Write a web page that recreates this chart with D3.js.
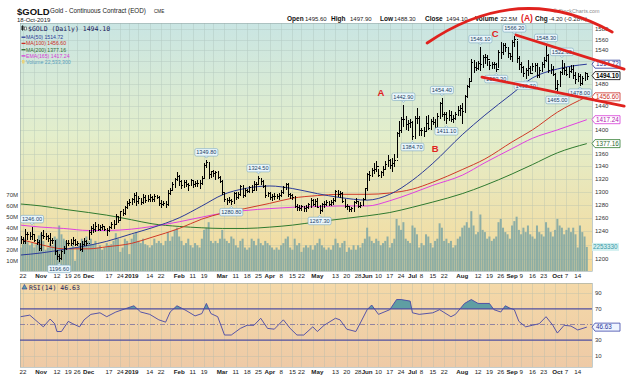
<!DOCTYPE html>
<html><head><meta charset="utf-8">
<script src="https://cdn.jsdelivr.net/npm/d3@7"></script>
<style>body{margin:0;background:#fff}svg{display:block;font-family:"Liberation Sans",Arial,sans-serif}</style>
</head><body><svg id="c" width="626" height="391"></svg>
<script>
// ---------------- DATA ----------------
const holidays = ["2018-11-22","2018-12-05","2018-12-25","2019-01-01","2019-01-21","2019-02-18","2019-04-19","2019-05-27","2019-07-04","2019-09-02"];
const closes = [
1228.5,1225.8,1236.4,1236.1,1233.2,1235.9,1227.5,1224.5,1215.0,
1235.0,1233.3,1232.9,1229.6,1226.9,1226.6,1210.6,1203.2,1201.4,1210.3,1215.1,1222.6,1223.2,1222.4,1227.6,1221.2,1222.6,1214.4,1220.6,1225.1,1222.2,
1238.4,1245.0,1243.0,1248.4,1243.8,1246.3,1247.1,1243.2,1241.4,1246.1,1250.3,1250.0,1262.2,1256.2,1269.8,1267.0,1276.9,1282.7,1284.7,
1288.1,1294.8,1285.8,1289.5,1283.7,1292.0,1287.3,1289.3,1291.3,1288.5,1294.0,1292.4,1282.0,1280.5,1283.0,1280.5,1298.5,1303.4,1312.1,1319.8,1325.2,
1317.5,1310.4,1315.5,1311.8,1310.3,1318.5,1311.9,1314.4,1312.9,1314.2,1322.1,1342.7,1347.0,1327.2,1332.4,1329.0,1331.3,1323.5,1316.1,
1299.2,1289.4,1287.4,1287.7,1285.0,1298.6,1292.3,1296.8,1309.2,1295.3,1302.9,1301.8,1306.7,1303.3,1312.3,1312.3,1322.0,1316.2,1309.7,1295.5,1298.5,
1292.4,1294.0,1292.9,1293.9,1295.4,1300.3,1307.3,1312.4,1296.6,1295.1,1292.1,1277.5,1276.7,1275.3,1277.6,1274.2,1276.2,1281.3,1287.7,1281.1,1285.7,
1276.9,1271.4,1281.3,1281.3,1284.5,1280.5,1283.8,1287.3,1300.4,1296.2,1297.8,1286.3,1277.3,1277.4,1273.2,1274.2,1283.6,1285.7,1278.3,1279.2,1288.6,1305.8,
1327.3,1325.7,1333.6,1336.6,1341.2,1326.8,1331.5,1336.2,1343.9,1350.2,1342.0,1346.1,1349.8,1395.4,1399.6,1419.2,1417.7,1409.4,1412.3,1413.7,
1389.8,1420.8,1419.8,1399.5,1400.1,1397.5,1412.4,1403.9,1415.8,1413.5,1405.6,1423.5,1446.0,1426.1,1426.6,1420.0,1425.5,1418.6,1419.6,1426.7,1433.7,1437.8,
1432.4,1457.5,1476.5,1484.2,1519.6,1509.5,1508.5,1517.1,1514.8,1527.8,1527.8,1523.6,1512.7,1515.7,1515.7,1506.4,1537.6,1537.2,1550.2,1546.8,1534.9,1529.4,
1556.4,1560.4,1525.5,1515.5,1510.5,1499.0,1503.9,1508.2,1499.5,1511.5,1513.4,1494.7,1504.2,1515.1,1522.1,1531.9,1504.0,1505.4,1497.0,1472.9,
1479.3,1499.9,1507.7,1504.9,1497.7,1503.0,1505.9,1495.6,1488.0,1493.2,1480.8,1489.8,1498.3,1494.1];
const highs = [
1233,1232,1243,1239,1238,1246,1236,1229,1227,
1238,1241,1237,1235,1237,1230,1226,1212,1206,1212,1218,1227,1227,1228,1231,1228,1226,1223,1225,1230,1227,
1242,1247,1250,1253,1251,1249,1251,1248,1245,1248,1253,1257,1265,1263,1271,1273,1278,1285,1288,
1291,1298,1299,1294,1290,1296,1295,1295,1296,1293,1296,1295,1294,1287,1286,1286,1303,1306,1315,1321,1331,
1326,1318,1318,1318,1314,1320,1318,1317,1318,1319,1325,1346,1349.8,1347,1333,1334,1332,1332,1325,
1318,1300,1291,1292,1289,1300,1299,1300,1311,1310,1306,1305,1309,1310,1317,1316,1324.5,1322,1318,1311,1300,
1300,1297,1298,1297,1298,1303,1309,1313,1314,1298,1296,1293,1281,1279,1280,1278,1280,1283,1291,1288,1288,
1290,1279,1283,1286,1287,1285,1287,1290,1302,1303,1301,1299,1288,1281,1278,1277,1286,1290,1286,1284,1291,1306,
1330,1332,1337,1346,1348,1336,1333,1340,1348,1359,1352,1354,1360,1397,1415,1421,1442.9,1423,1417,1418,
1415,1423,1437,1423,1403,1405,1423,1426,1418,1422,1419,1428,1448,1454.4,1430,1431,1433,1432,1426,1431,1440,1442,
1446,1460,1478,1490,1524,1522,1518,1521,1546.1,1532,1534,1531,1520,1518,1519,1516,1540,1556,1553,1553,1545,1536,
1560,1566.2,1557,1530,1518,1512,1508,1522,1512,1516,1517,1516,1510,1518,1527,1548.3,1534,1515,1512,1499,
1486,1502,1522.6,1516,1510,1510,1514,1513,1500,1498,1497,1494,1500,1497.9];
const lows = [
1223,1222,1222,1229,1229,1229,1226,1221,1212,
1213,1230,1229,1225,1220,1222,1206,1200,1196.6,1199,1208,1214,1220,1219,1221,1220,1220,1212,1211,1220,1219,
1228,1236,1238,1240,1242,1241,1243,1241,1235,1240,1245,1245,1250,1254,1256,1264,1266,1275,1279,
1281,1284,1280,1283,1281,1283,1284,1286,1286,1286,1286,1290,1279,1277,1280,1276,1280,1297,1302,1307,1318,
1311,1306,1308,1309,1303,1310,1307,1309,1309,1306,1312,1321,1339,1322,1323,1325,1320,1321,1315,
1296,1286,1281,1284,1280.8,1283,1289,1290,1295,1292,1294,1299,1300,1299,1302,1303,1312,1312,1307,1292,1293,
1289,1287,1289,1290,1288,1293,1298,1304,1294,1290,1289,1276,1272,1272,1272,1271,1271,1275,1276,1280,1278,
1276,1267.3,1270,1277,1280,1279,1279,1281,1285,1294,1292,1284,1276,1273,1270,1270,1271,1282,1277,1276,1279,1290,
1303,1318,1324,1329,1333,1325,1323,1327,1336,1341,1338,1333,1341,1355,1390,1397,1406,1401,1400,1405,
1384.7,1387,1412,1392,1392,1389,1398,1401,1402,1410,1401,1404,1420,1424,1416,1411.1,1416,1415,1413,1418,1425,1426,
1412,1430,1456,1474,1485,1501,1504,1506,1505,1510,1516,1513,1506,1507,1508,1502.3,1510,1526,1534,1538,1528,1524,
1520,1548,1519,1506,1500,1494,1490.7,1496,1498,1504,1502,1492,1492,1502,1510,1520,1500,1499,1495,1470,
1465.0,1476,1497,1497,1495,1492,1500,1490,1481,1484,1478.0,1479,1486,1488.3];
const volumeM = [
22,25,30,28,24,26,22,25,33,
35,28,20,22,26,24,32,30,42,34,30,28,20,22,24,10,22,26,30,28,32,
28,30,25,28,22,24,20,22,26,24,25,28,35,30,18,22,30,28,16,
30,34,36,28,26,30,25,24,22,24,30,26,28,26,24,28,36,28,32,38,40,
32,28,24,26,30,24,22,26,24,22,30,38,40,45,28,26,28,26,30,
38,30,28,26,32,30,24,22,28,30,22,20,22,30,28,24,30,26,24,28,26,
24,22,20,22,20,24,26,30,32,22,20,30,24,26,18,22,24,22,24,20,24,
26,30,24,22,20,22,20,24,30,26,22,26,28,18,22,20,24,20,24,22,26,30,
40,32,28,26,30,28,24,26,28,32,22,26,30,48,42,38,45,30,28,26,
42,40,34,22,26,24,34,32,26,22,28,30,44,40,28,30,26,28,22,24,30,32,
40,42,45,40,55,42,34,36,52,38,36,30,32,28,30,32,45,48,40,36,34,30,
42,46,50,38,34,40,36,42,34,32,30,42,36,34,32,45,40,36,32,38,
48,42,40,34,38,40,36,40,34,22,42,36,32,22.53];
// moving averages read at sample trading-day indices
const maIdx  = [0,9,19,30,38,49,58,70,80,89,99,110,120,131,141,153,163,173,182,195,205,217,226,237,250];
const ma50   = [1205,1208,1213,1219,1225,1236,1245,1260,1278,1295,1305,1309,1305,1297,1291,1287,1296,1318,1345,1392,1425,1462,1490,1506,1514.72];
const ma100  = [1228,1220,1214,1214,1217,1222,1231,1244,1258,1267,1274,1282,1290,1294,1296,1296,1298,1304,1315,1335,1352,1380,1400,1430,1456.6];
const ma200  = [1281,1278,1273,1268,1264,1257,1251,1247,1245,1244,1244,1246,1249,1254,1258,1263,1268,1276,1284,1297,1310,1328,1343,1362,1377.16];
const ema165 = [1249,1246,1244,1241,1241,1243,1247,1254,1261,1267,1271,1274,1276,1277,1278,1278,1286,1298,1310,1326,1346,1369,1386,1400,1417.24];
// RSI(14) read at sample trading-day indices
const rsiIdx = [0,4,8,10,13,15,16,18,21,23,26,28,31,35,38,42,46,50,53,57,61,64,66,69,73,77,80,82,84,87,90,93,97,100,103,106,109,112,116,119,122,125,129,131,134,139,141,144,148,150,153,155,158,163,166,168,172,173,176,182,185,190,192,196,199,202,207,209,212,214,216,218,220,223,226,229,232,235,237,240,243,246,250];
const rsiVal = [60,62,52,47,57,51,41,41,54,51,47,56,63,65,60,66,70,74,66,63,56,53,66,74,68,61,64,77,64,60,36.5,36.5,45,49,49,58,45,44,56,45,36.5,36.5,47,41,49,58,56,44,41,52,69,75,63,69,82,82,80,65,63,65,69,60,63,77,82,77,77,69,66,74,71,69,54,47,49,51,60,49,39,49,48,43,46.63];
// pivot labels: date, value, type
const pivots = [["2018-10-26",1246.00,"h"],["2018-11-13",1196.60,"l"],["2019-02-20",1349.80,"h"],["2019-03-07",1280.80,"l"],["2019-03-25",1324.50,"h"],["2019-05-02",1267.30,"l"],["2019-06-25",1442.90,"h"],["2019-07-01",1384.70,"l"],["2019-07-19",1454.40,"h"],["2019-07-23",1411.10,"l"],["2019-08-13",1546.10,"h"],["2019-08-22",1502.30,"l"],["2019-09-04",1566.20,"h"],["2019-09-11",1490.70,"l"],["2019-09-24",1548.30,"h"],["2019-10-03",1522.60,"h"],["2019-10-01",1465.00,"l"],["2019-10-15",1478.00,"l"]];
// date axis tick labels
const ticks = [["2018-10-22","22"],["2018-11-01","Nov"],["2018-11-12","12"],["2018-11-19","19"],["2018-11-26","26"],["2018-12-03","Dec"],["2018-12-17","17"],["2018-12-24","24"],["2019-01-02","2019"],["2019-01-14","14"],["2019-01-22","22"],["2019-02-01","Feb"],["2019-02-11","11"],["2019-02-19","19"],["2019-03-01","Mar"],["2019-03-11","11"],["2019-03-18","18"],["2019-03-25","25"],["2019-04-01","Apr"],["2019-04-08","8"],["2019-04-15","15"],["2019-04-22","22"],["2019-05-01","May"],["2019-05-13","13"],["2019-05-20","20"],["2019-05-28","28"],["2019-06-03","Jun"],["2019-06-10","10"],["2019-06-17","17"],["2019-06-24","24"],["2019-07-01","Jul"],["2019-07-08","8"],["2019-07-15","15"],["2019-07-22","22"],["2019-08-01","Aug"],["2019-08-12","12"],["2019-08-19","19"],["2019-08-26","26"],["2019-09-03","Sep"],["2019-09-09","9"],["2019-09-16","16"],["2019-09-23","23"],["2019-10-01","Oct"],["2019-10-07","7"],["2019-10-14","14"]];
const priceTicks = d3.range(1200, 1581, 20);
const volTicks = [10,20,30,40,50,60,70];
const rsiTicks = [10,30,50,70,90];
const lastVals = [["1514.72",1514.72,"#2b3a98","#2b3a98"],["1494.10",1494.10,"#000","#000"],["1456.60",1456.60,"#cc2a22","#cc2a22"],["1417.24",1417.24,"#d63ad6","#b020b0"],["1377.16",1377.16,"#2f7a2f","#2f6a2f"]];
const rsiLast = 46.63;
// hand annotations (trading-day index, price)
const arcPts = [[179.5,1553.7],[220.5,1675.7],[261.2,1574.3]];
const chanUpper = [[218.7,1568.7],[266.5,1505.9]];
const chanLower = [[203.7,1491.5],[266.5,1440.5]];
const annoText = [["A",159.1,1457.9],["B",183,1363.4],["C",209.5,1564],["(A)",223.6,1595.2]];

// ---------------- BUILD ----------------
const dates = [];
{ const fmt = d3.utcFormat("%Y-%m-%d");
  let d = new Date(Date.UTC(2018,9,19)); const end = new Date(Date.UTC(2019,9,18));
  while (d <= end) { const s = fmt(d), wd = d.getUTCDay();
    if (wd > 0 && wd < 6 && !holidays.includes(s)) dates.push(s);
    d = new Date(d.getTime() + 864e5); } }
const N = Math.min(dates.length, closes.length, highs.length, lows.length, volumeM.length);
const idxOf = s => dates.indexOf(s);

const svg = d3.select("#c");
const P = {l:20, r:592, t:23, b:271}, R = {t:283, b:367};
const x = d3.scaleLinear().domain([0,250]).range([20.7,586.8]);
const y = d3.scaleLog().domain([1200,1580]).range([258.5,29]);
const yv = d3.scaleLinear().domain([0,70]).range([271.7,194.7]);
const yr = d3.scaleLinear().domain([0,100]).range([363.5,285.5]);

const defs = svg.append("defs");
const g1 = defs.append("linearGradient").attr("id","gm").attr("x1",0).attr("y1",0).attr("x2",0).attr("y2",1);
g1.append("stop").attr("offset","0%").attr("stop-color","#c9e5e3");
g1.append("stop").attr("offset","45%").attr("stop-color","#e3eecb");
g1.append("stop").attr("offset","100%").attr("stop-color","#f5d99a");
const g2 = defs.append("linearGradient").attr("id","gr").attr("x1",0).attr("y1",0).attr("x2",0).attr("y2",1);
g2.append("stop").attr("offset","0%").attr("stop-color","#f4d9a8");
g2.append("stop").attr("offset","100%").attr("stop-color","#eecaa6");
defs.append("clipPath").attr("id","cm").append("rect").attr("x",P.l).attr("y",P.t).attr("width",P.r-P.l).attr("height",P.b-P.t);
defs.append("clipPath").attr("id","c70").append("rect").attr("x",P.l).attr("y",R.t).attr("width",P.r-P.l).attr("height",yr(70)-R.t);

// panels
svg.append("rect").attr("x",P.l).attr("y",P.t).attr("width",P.r-P.l).attr("height",P.b-P.t).attr("fill","url(#gm)");
svg.append("rect").attr("x",P.l).attr("y",R.t).attr("width",P.r-P.l).attr("height",R.b-R.t).attr("fill","url(#gr)");

// week gridlines
const weekStarts = dates.filter((d,i)=> i>0 && new Date(d).getUTCDay() <= new Date(dates[i-1]).getUTCDay());
const grid = svg.append("g").attr("stroke","#9fb3ad").attr("stroke-width",0.5).attr("opacity",0.55).attr("shape-rendering","crispEdges");
weekStarts.forEach(d=>{
  const xx = Math.round(x(idxOf(d)))+0.5;
  grid.append("line").attr("x1",xx).attr("x2",xx).attr("y1",P.t).attr("y2",P.b);
  grid.append("line").attr("x1",xx).attr("x2",xx).attr("y1",R.t).attr("y2",R.b);
});
priceTicks.forEach(p=>{ const yy=Math.round(y(p))+0.5;
  grid.append("line").attr("x1",P.l).attr("x2",P.r).attr("y1",yy).attr("y2",yy); });
[10,90].forEach(v=>{ const yy=Math.round(yr(v))+0.5;
  grid.append("line").attr("x1",P.l).attr("x2",P.r).attr("y1",yy).attr("y2",yy); });

// volume bars
const main = svg.append("g").attr("clip-path","url(#cm)");
main.append("g").selectAll("rect").data(d3.range(N)).join("rect")
  .attr("x", i=> x(i)-1).attr("width",2).attr("y", i=> yv(volumeM[i])).attr("height", i=> yv(0)-yv(volumeM[i]))
  .attr("fill","#83a9a4").attr("opacity",0.9);

// moving averages
const maLine = arr => d3.line().x((d,i)=>x(maIdx[i])).y(d=>y(d)).curve(d3.curveMonotoneX)(arr);
[[ma200,"#2f7a2f"],[ema165,"#e040e0"],[ma100,"#d03a28"],[ma50,"#2b3a98"]].forEach(([a,c])=>{
  main.append("path").attr("d",maLine(a)).attr("fill","none").attr("stroke",c).attr("stroke-width",1);
});

// price OHLC bars
main.append("g").selectAll("path").data(d3.range(N)).join("path")
  .attr("fill","none").attr("stroke","#000").attr("stroke-width",1).attr("shape-rendering","crispEdges")
  .attr("d", i=>{ const cx=Math.round(x(i))+0.5, o = i? closes[i-1]:closes[i];
    return `M${cx},${y(highs[i])}V${y(lows[i])+1}M${cx-1},${Math.round(y(o))+0.5}H${cx}M${cx},${Math.round(y(closes[i]))+0.5}H${cx+1.5}`; });

// panel borders
svg.append("rect").attr("x",P.l+0.5).attr("y",P.t+0.5).attr("width",P.r-P.l).attr("height",P.b-P.t).attr("fill","none").attr("stroke","#9aa").attr("stroke-width",0.6);
svg.append("rect").attr("x",P.l+0.5).attr("y",R.t+0.5).attr("width",P.r-P.l).attr("height",R.b-R.t).attr("fill","none").attr("stroke","#9aa").attr("stroke-width",0.6);

// pivot labels
const pl = svg.append("g").attr("font-size",5.6);
pivots.forEach(([d,v,t])=>{
  const i=idxOf(d); if(i<0) return;
  const cx=x(i), py=y(v), w=23, h=7.5;
  const cy = t==="h" ? py-8 : py+8;
  pl.append("path").attr("d", t==="h" ? `M${cx-2},${cy+h/2}L${cx},${cy+h/2+2}L${cx+2},${cy+h/2}` : `M${cx-2},${cy-h/2}L${cx},${cy-h/2-2}L${cx+2},${cy-h/2}`)
    .attr("fill","#eaf6fb").attr("stroke","#7aa7c0").attr("stroke-width",0.6);
  pl.append("rect").attr("x",cx-w/2).attr("y",cy-h/2).attr("width",w).attr("height",h).attr("rx",1.5)
    .attr("fill","#eaf6fb").attr("stroke","#7aa7c0").attr("stroke-width",0.6);
  pl.append("text").attr("x",cx).attr("y",cy+2).attr("text-anchor","middle").attr("fill","#1d3f66").text(v.toFixed(2));
});

// right axes (labels hidden behind last-value boxes are skipped, as in the reference)
const boxYs = lastVals.map(d=>y(d[1])).concat([yv(volumeM[N-1])]);
const ra = svg.append("g").attr("font-size",6).attr("fill","#333");
priceTicks.filter(p=> boxYs.every(b=>Math.abs(b-y(p))>6))
  .forEach(p=> ra.append("text").attr("x",595).attr("y",y(p)+2).text(p));
rsiTicks.filter(v=> Math.abs(yr(v)-yr(rsiLast))>6)
  .forEach(v=> ra.append("text").attr("x",595).attr("y",yr(v)+2).text(v));
// left volume axis
volTicks.forEach(v=> ra.append("text").attr("x",18).attr("y",yv(v)+2).attr("text-anchor","end").text(v+"M"));

// last-value boxes
const box = (txt, yy, stroke, fill, tcol, bold) => {
  svg.append("path").attr("d",`M${P.r},${yy}L${P.r+3},${yy-4}H${620}V${yy+4}H${P.r+3}Z`)
    .attr("fill",fill).attr("stroke",stroke).attr("stroke-width",0.8);
  svg.append("text").attr("x",P.r+4).attr("y",yy+2.2).attr("font-size",6.3).attr("fill",tcol)
    .attr("font-weight",bold?"bold":"normal").text(txt);
};
lastVals.forEach(([t,v,s,tc])=> box(t, y(v), s, "#ffffff", tc, t==="1494.10"));
svg.append("rect").attr("x",P.r).attr("y",yv(volumeM[N-1])-4).attr("width",27).attr("height",8).attr("fill","#d3f0f0");
svg.append("text").attr("x",P.r+1).attr("y",yv(volumeM[N-1])+2.2).attr("font-size",6.3).attr("fill","#3a98a8").text("2253330");

// RSI panel content
svg.append("path").attr("clip-path","url(#c70)")
  .attr("d", d3.area().x((d,i)=>x(rsiIdx[i])).y0(yr(70)).y1(d=>yr(d))(rsiVal))
  .attr("fill","#5f9ea3");
[[70,"#4f4fa0",1.2,null],[30,"#4f4fa0",1.2,null],[50,"#7a70a0",0.8,"5,2,1,2"]].forEach(([v,c,w,da])=>{
  svg.append("line").attr("x1",P.l).attr("x2",P.r).attr("y1",yr(v)).attr("y2",yr(v)).attr("stroke",c).attr("stroke-width",w).attr("stroke-dasharray",da);
});
svg.append("path").attr("d", d3.line().x((d,i)=>x(rsiIdx[i])).y(d=>yr(d))(rsiVal))
  .attr("fill","none").attr("stroke","#4646a6").attr("stroke-width",0.9);
svg.append("path").attr("d",`M${P.r},${yr(rsiLast)}L${P.r+3},${yr(rsiLast)-4}H620V${yr(rsiLast)+4}H${P.r+3}Z`)
  .attr("fill","#eef4ff").attr("stroke","#3d48a8").attr("stroke-width",0.8);
svg.append("text").attr("x",P.r+4).attr("y",yr(rsiLast)+2.2).attr("font-size",6.3).attr("fill","#2d3898").text(rsiLast.toFixed(2));

// date axes
[278, 374].forEach(by=>{
  const ga = svg.append("g").attr("font-size",6.2).attr("fill","#222").attr("text-anchor","middle");
  ticks.forEach(([d,t])=>{ const i=idxOf(d); if(i<0) return;
    ga.append("text").attr("x",x(i)).attr("y",by).attr("font-weight", /^\d+$/.test(t) && t!=="2019" ? "normal":"bold").text(t); });
});

// header
svg.append("text").attr("x",17).attr("y",15).attr("font-size",9.5).attr("font-weight","bold").attr("fill","#111").text("$GOLD");
svg.append("text").attr("x",50).attr("y",13).attr("font-size",6.3).attr("fill","#222").text("Gold - Continuous Contract (EOD)");
svg.append("text").attr("x",154).attr("y",13).attr("font-size",4.6).attr("fill","#222").text("CME");
svg.append("text").attr("x",17).attr("y",21.5).attr("font-size",6).attr("fill","#222").text("18-Oct-2019");
svg.append("text").attr("x",553).attr("y",12.5).attr("font-size",5.4).attr("fill","#8a8a8a").text("© StockCharts.com");
const hdr = [["Open",287,"1495.60",305],["High",331,"1497.90",350],["Low",380,"1488.30",394],["Close",425,"1494.10",446],["Volume",475,"22.5M",500.5],["Chg",535,"-4.20 (-0.28%)",549]];
hdr.forEach(([l,lx,v,vx])=>{
  svg.append("text").attr("x",lx).attr("y",21).attr("font-size",6.5).attr("font-weight","bold").attr("fill","#111").text(l);
  svg.append("text").attr("x",vx).attr("y",21).attr("font-size",6).attr("fill","#222").text(v);
});

// legend
const lg = svg.append("g");
lg.append("rect").attr("x",21.5).attr("y",26).attr("width",2).attr("height",4).attr("fill","#222");
lg.append("line").attr("x1",22.5).attr("x2",22.5).attr("y1",25).attr("y2",31).attr("stroke","#222").attr("stroke-width",0.6);
lg.append("rect").attr("x",24.3).attr("y",27).attr("width",2).attr("height",3).attr("fill","#fff").attr("stroke","#222").attr("stroke-width",0.5);
lg.append("text").attr("x",28).attr("y",30.7).attr("font-size",6.5).attr("font-family","'DejaVu Sans Mono',monospace").attr("fill","#1a1a5a").text("$GOLD (Daily) 1494.10");
const legRows = [["MA(50) 1514.72","#2b3a98",39],["MA(100) 1456.60","#cc2a22",45.2],["MA(200) 1377.16","#2f6a2f",51.5],["EMA(165) 1417.24","#d63ad6",57.7]];
legRows.forEach(([t,c,yy])=>{
  lg.append("line").attr("x1",21.5).attr("x2",25.5).attr("y1",yy-1.8).attr("y2",yy-1.8).attr("stroke",c).attr("stroke-width",1.3);
  lg.append("text").attr("x",26).attr("y",yy).attr("font-size",5.2).attr("font-family","'Liberation Sans Narrow','Liberation Sans',Arial").attr("fill",c).text(t);
});
lg.append("rect").attr("x",22).attr("y",60).attr("width",2.5).attr("height",3.5).attr("fill","#e8d27a");
lg.append("text").attr("x",26).attr("y",64).attr("font-size",5.2).attr("font-family","'Liberation Sans Narrow','Liberation Sans',Arial").attr("fill","#5aa0bc").text("Volume 22,533,300");
// RSI legend
lg.append("path").attr("d","M22,289L24.5,284.5L27,289Z").attr("fill","#5f9ea3").attr("stroke","#2d3898").attr("stroke-width",0.6);
lg.append("text").attr("x",29).attr("y",289.5).attr("font-size",6.5).attr("font-family","'DejaVu Sans Mono',monospace").attr("fill","#1a1a5a").text("RSI(14) 46.63");

// red hand annotations
const an = svg.append("g").attr("fill","none").attr("stroke","#e0221e").attr("stroke-width",2.8).attr("stroke-linecap","round");
const ap = d3.path();
ap.moveTo(x(arcPts[0][0]), y(arcPts[0][1]));
ap.quadraticCurveTo(x(arcPts[1][0]), y(arcPts[1][1]), x(arcPts[2][0]), y(arcPts[2][1]));
an.append("path").attr("d", ap.toString());
[chanUpper, chanLower].forEach(seg=>{
  an.append("line").attr("x1",x(seg[0][0])).attr("y1",y(seg[0][1])).attr("x2",x(seg[1][0])).attr("y2",y(seg[1][1]));
});
annoText.forEach(([t,i,p])=>{
  svg.append("text").attr("x",x(i)).attr("y",y(p)).attr("text-anchor","middle").attr("font-size",t==="(A)"?8.5:9.5)
    .attr("font-weight","bold").attr("fill","#e0221e").text(t);
});
</script></body></html>
